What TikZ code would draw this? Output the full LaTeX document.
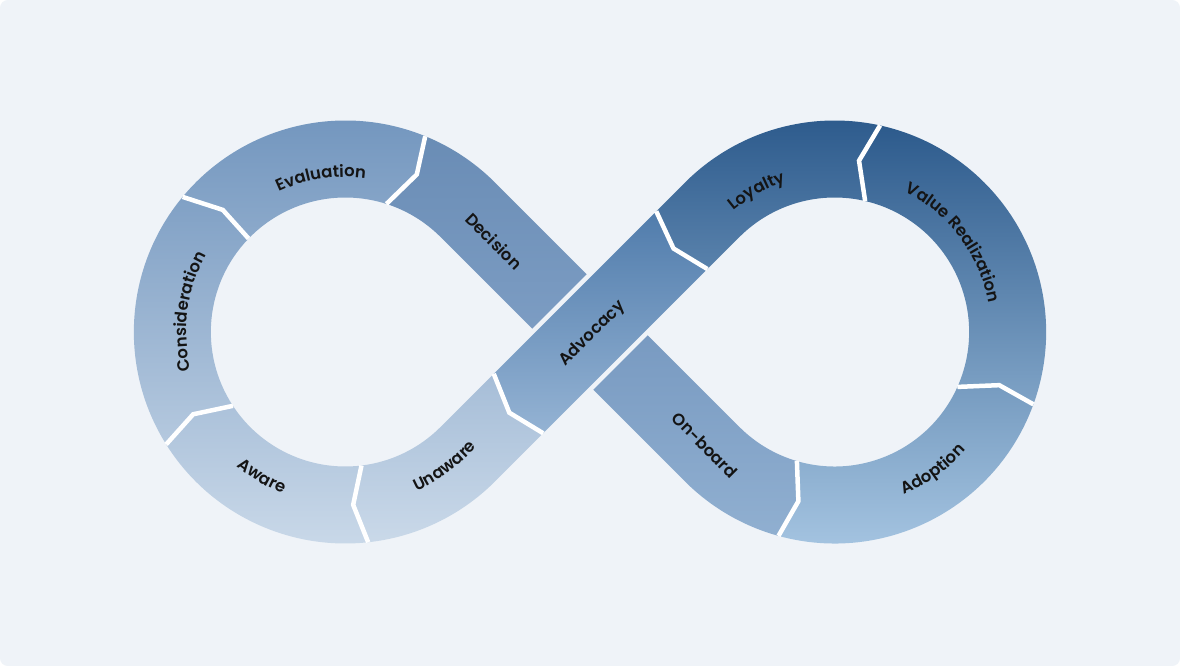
\documentclass[tikz,border=0pt]{standalone}
\usepackage{fontspec}
\setmainfont{Poppins}[BoldFont={* SemiBold}]
\usetikzlibrary{calc,decorations.text}

\definecolor{bgcol}{HTML}{EFF3F8}
\definecolor{ink}{HTML}{141414}
\definecolor{ltop}{HTML}{7094BD}
\definecolor{lmid}{HTML}{779BC4}
\definecolor{lbot}{HTML}{CAD9E9}
\definecolor{rtop}{HTML}{2B598B}
\definecolor{rmid}{HTML}{4D7DAC}
\definecolor{rbot}{HTML}{A9C8E4}
\definecolor{utop}{HTML}{688BB4}
\definecolor{ubot}{HTML}{7F9FC5}
\definecolor{dtop}{HTML}{7597BF}
\definecolor{dbot}{HTML}{91B0D1}
\definecolor{ctop}{HTML}{4F7BAB}
\definecolor{cbot}{HTML}{97B5D5}

\newcommand\lblfont{\bfseries\fontsize{16.5}{19}\selectfont}

\begin{document}
\begin{tikzpicture}[x=1pt,y=1pt,
    lbl/.style={font=\lblfont, text=ink, inner sep=0pt},
    arclbl/.style={decorate, decoration={text along path, text align=center,
        text color=ink, text={|\lblfont|#1}}},
    sep/.style={white, line width=4.5pt, line join=miter},
    leftloop/.style={path picture={\shade[top color=ltop, middle color=lmid, bottom color=lbot] (-480,-212) rectangle (0,212);}},
    rightloop/.style={path picture={\shade[top color=rtop, middle color=rmid, bottom color=rbot] (0,-212) rectangle (480,212);}},
    upstrip/.style={path picture={\shade[top color=utop, bottom color=ubot] (-260,0) rectangle (0,212);}},
    downstrip/.style={path picture={\shade[top color=dtop, bottom color=dbot] (0,-212) rectangle (260,0);}},
    crossstrip/.style={path picture={\shade[top color=ctop, bottom color=cbot] (-130,-110) rectangle (130,125);}}]

  \useasboundingbox (-590,-334) rectangle (590,332);
  \fill[white] (-590,-334) rectangle (590,332);
  \fill[bgcol, rounded corners=8pt] (-590,-334) rectangle (590,332);

  % loop centres
  \coordinate (L) at (-244.66,0);
  \coordinate (R) at (244.66,0);

  % separators on the loops: outer, kink, inner
  \foreach \n/\c/\o/\k/\i in {1/L/140.3/135.1/136, 2/L/67.8/65.6/72.2,
      3/L/212.1/208.4/213.3, 4/L/276.2/272.6/276.9, 7/R/77.6/81.9/76.9,
      8/R/-20/-17.9/-24.1, 9/R/-105.4/-102.1/-106.3} {
    \coordinate (o\n) at ($(\c)+(\o:211.5)$);
    \coordinate (k\n) at ($(\c)+(\k:173)$);
    \coordinate (i\n) at ($(\c)+(\i:134.5)$);
  }

  % separators on the straight strip
  \begin{scope}[rotate=45]
    \coordinate (o5) at (-104.7,-38.5);
    \coordinate (k5) at (-114.1,0);
    \coordinate (i5) at (-97.6,38.5);
    \coordinate (o6) at (132.2,38.5);
    \coordinate (k6) at (118.1,0);
    \coordinate (i6) at (127.5,-38.5);
  \end{scope}
  \coordinate (x1) at (-27.22,-27.22);
  \coordinate (x2) at (27.22,27.22);

  % segments
  \path[leftloop] (o2) arc[start angle=67.8, end angle=140.3, radius=211.5] -- (k1) -- (i1)
    arc[start angle=136, end angle=72.2, radius=134.5] -- (k2) -- cycle;
  \path[leftloop] (o1) arc[start angle=140.3, end angle=212.1, radius=211.5] -- (k3) -- (i3)
    arc[start angle=213.3, end angle=136, radius=134.5] -- (k1) -- cycle;
  \path[leftloop] (o3) arc[start angle=212.1, end angle=276.2, radius=211.5] -- (k4) -- (i4)
    arc[start angle=276.9, end angle=213.3, radius=134.5] -- (k3) -- cycle;
  \path[leftloop] (o4) arc[start angle=276.2, end angle=315, radius=211.5] -- (o5) -- (k5) -- (i5)
    -- ($(L)+(315:134.5)$) arc[start angle=315, end angle=276.9, radius=134.5] -- (k4) -- cycle;
  \path[upstrip] (x2) -- ($(L)+(45:211.5)$) arc[start angle=45, end angle=67.8, radius=211.5]
    -- (k2) -- (i2) arc[start angle=72.2, end angle=45, radius=134.5] -- (x1) -- cycle;
  \path[rightloop] (o6) -- ($(R)+(135:211.5)$) arc[start angle=135, end angle=77.6, radius=211.5]
    -- (k7) -- (i7) arc[start angle=76.9, end angle=135, radius=134.5] -- (i6) -- (k6) -- cycle;
  \path[rightloop] (o7) arc[start angle=77.6, end angle=-20, radius=211.5] -- (k8) -- (i8)
    arc[start angle=-24.1, end angle=76.9, radius=134.5] -- (k7) -- cycle;
  \path[rightloop] (o8) arc[start angle=-20, end angle=-105.4, radius=211.5] -- (k9) -- (i9)
    arc[start angle=-106.3, end angle=-24.1, radius=134.5] -- (k8) -- cycle;
  \path[downstrip] (o9) arc[start angle=-105.4, end angle=-135, radius=211.5] -- (x1) -- (x2)
    -- ($(R)+(-135:134.5)$) arc[start angle=-135, end angle=-106.3, radius=134.5] -- (k9) -- cycle;

  \foreach \n in {1,2,3,4,7,8,9}
    \draw[sep] (o\n) -- (k\n) -- (i\n);

  % strip on top
  \fill[bgcol, rotate=45] (-80,-43) rectangle (80,43);
  \path[crossstrip] (i5) -- (o6) -- (k6) -- (i6) -- (o5) -- (k5) -- cycle;
  \draw[sep] (o5) -- (k5) -- (i5);
  \draw[sep] (o6) -- (k6) -- (i6);

  % labels on the loops
  \path[arclbl=Evaluation] ($(L)+(129:155)$) arc[start angle=129, end angle=69, radius=155];
  \path[arclbl=Consideration] ($(L)+(205:159)$) arc[start angle=205, end angle=140, radius=159];
  \path[arclbl=Aware] ($(L)+(210:173)$) arc[start angle=210, end angle=270, radius=173];
  \path[arclbl=Unaware] ($(L)+(276:174.5)$) arc[start angle=276, end angle=337, radius=174.5];
  \path[arclbl=Loyalty] ($(R)+(149:158)$) arc[start angle=149, end angle=89, radius=158];
  \path[arclbl=Value Realization] ($(R)+(77:157)$) arc[start angle=77, end angle=-3, radius=157];
  \path[arclbl=Adoption] ($(R)+(-85:176.5)$) arc[start angle=-85, end angle=-24, radius=176.5];

  % labels on the strips
  \node[lbl, rotate=-45] (dec) at (-96,91) {Decision};
  \node[lbl, rotate=45] (adv) at (2.5,-2) {Advocacy};
  \node[lbl, rotate=-45] (onb) at (115,-113) {On-board};
\end{tikzpicture}
\end{document}
